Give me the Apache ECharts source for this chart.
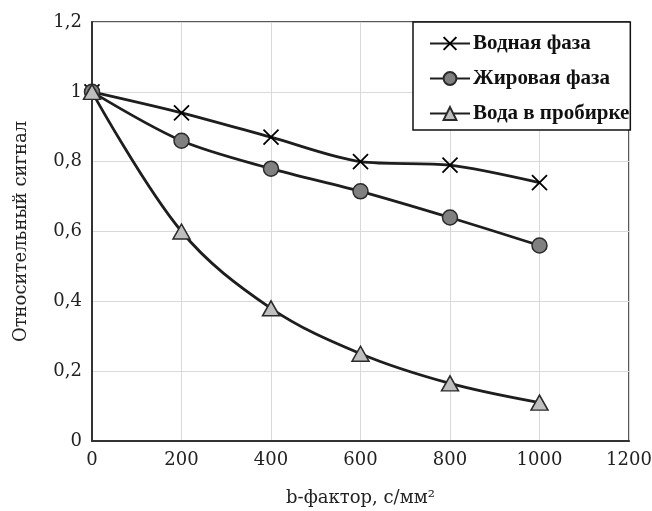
<!DOCTYPE html>
<html>
<head>
<meta charset="utf-8">
<script src="https://cdn.jsdelivr.net/npm/echarts@6/dist/echarts.min.js"></script>
<style>html,body{margin:0;padding:0;background:#fff}#c{width:652px;height:511px}</style>
</head>
<body>
<div id="c"></div>
<script>
var bFactor = [0, 200, 400, 600, 800, 1000];
var waterPhase = [1.0, 0.94, 0.87, 0.80, 0.79, 0.74];
var fatPhase = [1.0, 0.86, 0.78, 0.715, 0.64, 0.56];
var waterTube = [1.0, 0.60, 0.38, 0.25, 0.165, 0.11];
var seriesNames = ['Водная фаза', 'Жировая фаза', 'Вода в пробирке'];
var xAxisName = 'b-фактор, с/мм²';
var yAxisName = 'Относительный сигнал';

function pairs(xs, ys) { return xs.map(function (x, i) { return [x, ys[i]]; }); }

var chart = echarts.init(document.getElementById('c'), null, {renderer: 'canvas'});
var serif = 'DejaVu Serif';
var lineColor = '#1e1e1e';
chart.setOption({
  animation: false,
  backgroundColor: '#fff',
  grid: {left: 92, right: 23, top: 22, bottom: 70, outerBoundsMode: 'none', containLabel: false,
    show: true, borderColor: '#222', borderWidth: 1.5, backgroundColor: 'transparent'},
  legend: {
    orient: 'vertical', left: 413, top: 22,
    padding: [11, 1, 6, 16],
    itemGap: 14, itemWidth: 40, itemHeight: 16,
    borderColor: '#111', borderWidth: 1.5, backgroundColor: '#fff',
    textStyle: {fontFamily: 'Liberation Serif', fontWeight: 'bold', fontSize: 21, color: '#111', padding: [0, 0, 0, -2]},
    data: seriesNames
  },
  xAxis: {
    type: 'value', min: 0, max: 1200, interval: 200,
    name: xAxisName, nameLocation: 'middle', nameGap: 48,
    nameTextStyle: {fontFamily: serif, fontSize: 18, color: '#222'},
    axisLine: {show: true, lineStyle: {color: '#333', width: 2}},
    axisTick: {show: false},
    axisLabel: {fontFamily: serif, fontSize: 18, color: '#222', margin: 10,
      formatter: function (v) { return String(v); }},
    splitLine: {show: true, lineStyle: {color: '#d9d9d9', width: 1}}
  },
  yAxis: {
    type: 'value', min: 0, max: 1.2, interval: 0.2,
    name: yAxisName, nameLocation: 'middle', nameGap: 62, nameRotate: 90,
    nameTextStyle: {fontFamily: serif, fontSize: 18, color: '#222'},
    axisLine: {show: true, lineStyle: {color: '#333', width: 2}},
    axisTick: {show: false},
    axisLabel: {fontFamily: serif, fontSize: 18, color: '#222', margin: 10,
      formatter: function (v) { return String(Math.round(v * 10) / 10).replace('.', ','); }},
    splitLine: {show: true, lineStyle: {color: '#d9d9d9', width: 1}}
  },
  series: [
    {
      name: seriesNames[0], type: 'line', smooth: 0.3,
      data: pairs(bFactor, waterPhase),
      symbol: 'path://M0,0L10,10M10,0L0,10', symbolSize: 15,
      lineStyle: {color: lineColor, width: 2.8},
      itemStyle: {color: 'none', borderColor: '#000', borderWidth: 1.8}
    },
    {
      name: seriesNames[1], type: 'line', smooth: 0.3,
      data: pairs(bFactor, fatPhase),
      symbol: 'circle', symbolSize: 15,
      lineStyle: {color: lineColor, width: 2.8},
      itemStyle: {color: '#808080', borderColor: '#2a2a2a', borderWidth: 1.5}
    },
    {
      name: seriesNames[2], type: 'line', smooth: 0.35,
      data: pairs(bFactor, waterTube),
      symbol: 'triangle', symbolSize: [17, 15],
      lineStyle: {color: lineColor, width: 2.8},
      itemStyle: {color: '#bfbfbf', borderColor: '#2a2a2a', borderWidth: 1.5}
    }
  ]
});
</script>
</body>
</html>
